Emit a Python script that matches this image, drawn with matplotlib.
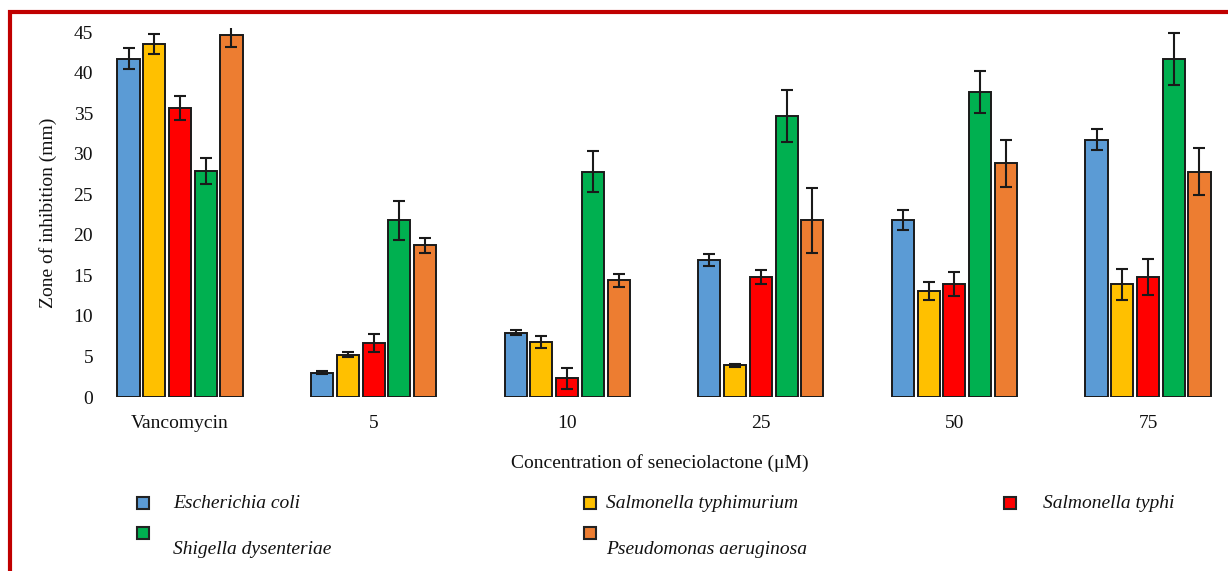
import matplotlib
matplotlib.use("Agg")
import matplotlib.pyplot as plt
from matplotlib.patches import Rectangle
import numpy as np

categories = ["Vancomycin", "5", "10", "25", "50", "75"]
series_names = ["Escherichia coli", "Salmonella typhimurium", "Salmonella typhi",
                "Shigella dysenteriae", "Pseudomonas aeruginosa"]
ecoli = [41.7, 3.0, 7.9, 16.9, 21.8, 31.7]
ecoli_err = [1.3, 0.2, 0.3, 0.7, 1.2, 1.3]
styphimurium = [43.5, 5.2, 6.8, 3.9, 13.1, 13.9]
styphimurium_err = [1.2, 0.3, 0.7, 0.15, 1.1, 1.9]
styphi = [35.6, 6.7, 2.3, 14.8, 13.9, 14.8]
styphi_err = [1.5, 1.1, 1.3, 0.9, 1.5, 2.2]
shigella = [27.9, 21.8, 27.8, 34.6, 37.6, 41.7]
shigella_err = [1.6, 2.4, 2.5, 3.2, 2.6, 3.2]
pseudo = [44.6, 18.7, 14.4, 21.8, 28.8, 27.8]
pseudo_err = [1.5, 0.9, 0.8, 4.0, 2.9, 2.9]
yticks = [0, 5, 10, 15, 20, 25, 30, 35, 40, 45]

values = [ecoli, styphimurium, styphi, shigella, pseudo]
errors = [ecoli_err, styphimurium_err, styphi_err, shigella_err, pseudo_err]
colors = ["#5B9BD5", "#FFC000", "#FF0000", "#00B050", "#ED7D31"]

SERIF = ["Liberation Serif", "DejaVu Serif"]
plt.rcParams["font.family"] = SERIF
FS = 14

W, H = 1228, 571
fig = plt.figure(figsize=(W / 100, H / 100), dpi=100)

# axes: left 100px, right 1220px, bottom y=0 at 397px, top 28px
ax = fig.add_axes([100 / W, (H - 397) / H, 1120 / W, (397 - 28) / H])
x = np.arange(len(categories))
step = 0.133
width = 0.114
for i, (v, e, c) in enumerate(zip(values, errors, colors)):
    ax.bar(x + (i - 2) * step, v, width, color=c, edgecolor="#1a1a1a", linewidth=1.4,
           yerr=e, capsize=4, error_kw=dict(ecolor="#1a1a1a", elinewidth=1.5, capthick=1.5),
           label=series_names[i], zorder=2)

ax.set_xlim((100 - 180) / 193.6, (1220 - 180) / 193.6)
ax.set_ylim(0, 45.5)
ax.set_yticks(yticks)
ax.set_xticks(x)
ax.set_xticklabels(categories)
ax.tick_params(axis="both", length=0, labelsize=FS, colors="#111111")
ax.tick_params(axis="x", pad=13)
ax.tick_params(axis="y", pad=5)
for s in ax.spines.values():
    s.set_visible(False)
ax.set_ylabel("Zone of inhibition (mm)", fontsize=FS, labelpad=12, color="#111111")
ax.set_xlabel("Concentration of seneciolactone (\u03bcM)", fontsize=FS, labelpad=16,
              color="#111111")

# legend (manual layout)
leg = [
    (137, 497, 173, 504, 0),
    (584, 497, 606, 504, 1),
    (1004, 497, 1043, 504, 2),
    (137, 527, 173, 549, 3),
    (584, 527, 606, 549, 4),
]
for sx, sy, tx, ty, k in leg:
    fig.patches.append(Rectangle((sx / W, 1 - (sy + 12) / H), 12 / W, 12 / H,
                                 transform=fig.transFigure, facecolor=colors[k],
                                 edgecolor="#222222", linewidth=1.5))
    fig.text(tx / W, 1 - ty / H, series_names[k], fontsize=FS, style="italic",
             va="center", ha="left", color="#111111")

# red frame
fig.patches.append(Rectangle((10 / W, -0.05), 1.2, 1 - 12 / H + 0.05,
                             transform=fig.transFigure, facecolor="none",
                             edgecolor="#C00000", linewidth=3, clip_on=False))

fig.savefig("out.png", dpi=100)
